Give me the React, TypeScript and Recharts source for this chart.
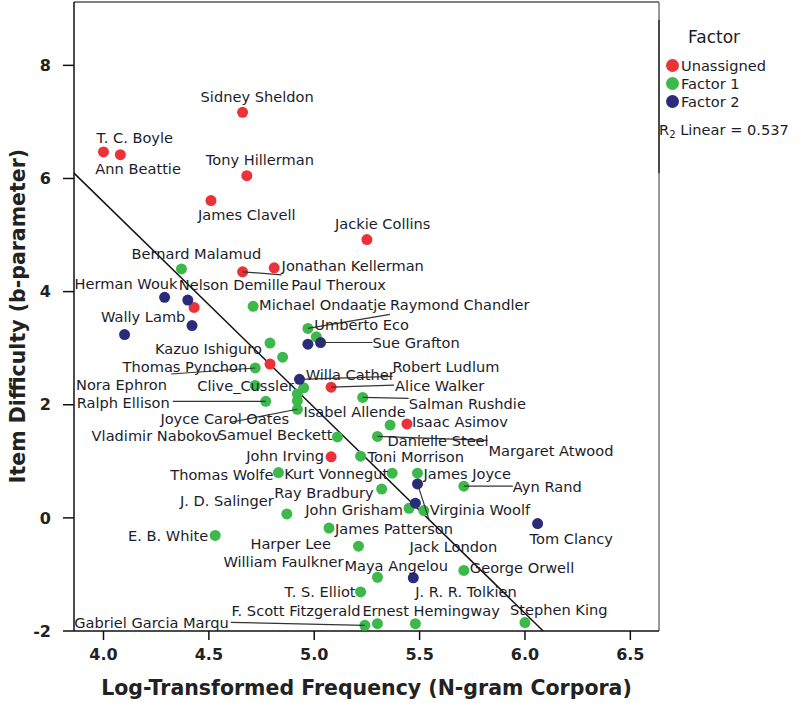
import { ScatterChart, Scatter, XAxis, YAxis, ReferenceLine, Label } from 'recharts';

const FONT = '"DejaVu Sans", sans-serif';

const X_TICKS = [4.0, 4.5, 5.0, 5.5, 6.0, 6.5];
const Y_TICKS = [-2, 0, 2, 4, 6, 8];
const X_DOMAIN = [3.86, 6.636];
const Y_DOMAIN = [-2, 9.12];

// linear fit shown in the plot
const FIT_INTERCEPT = 20.13;
const FIT_SLOPE = -3.636;
const FIT_R2 = 0.537;

const UNASSIGNED = [
  { name: 'T. C. Boyle', x: 4.0, y: 6.47 },
  { name: 'Ann Beattie', x: 4.08, y: 6.42 },
  { name: 'Sidney Sheldon', x: 4.66, y: 7.17 },
  { name: 'Tony Hillerman', x: 4.68, y: 6.05 },
  { name: 'James Clavell', x: 4.51, y: 5.61 },
  { name: 'Jackie Collins', x: 5.25, y: 4.92 },
  { name: 'Jonathan Kellerman', x: 4.66, y: 4.35 },
  { name: 'Paul Theroux', x: 4.81, y: 4.42 },
  { name: '', x: 4.43, y: 3.72 },
  { name: 'Nora Ephron', x: 4.79, y: 2.72 },
  { name: 'Alice Walker', x: 5.08, y: 2.31 },
  { name: 'Isaac Asimov', x: 5.44, y: 1.66 },
  { name: 'John Irving', x: 5.08, y: 1.08 },
];

const FACTOR_1 = [
  { name: 'Bernard Malamud', x: 4.37, y: 4.4 },
  { name: 'Michael Ondaatje', x: 4.71, y: 3.74 },
  { name: 'Raymond Chandler', x: 4.97, y: 3.35 },
  { name: 'Umberto Eco', x: 5.01, y: 3.2 },
  { name: 'Kazuo Ishiguro', x: 4.79, y: 3.09 },
  { name: '', x: 4.85, y: 2.84 },
  { name: 'Thomas Pynchon', x: 4.72, y: 2.65 },
  { name: 'Clive_Cussler', x: 4.72, y: 2.34 },
  { name: 'Willa Cather', x: 4.95, y: 2.3 },
  { name: 'Ralph Ellison', x: 4.77, y: 2.06 },
  { name: 'Vladimir Nabokov', x: 4.92, y: 2.19 },
  { name: 'Isabel Allende', x: 4.92, y: 2.07 },
  { name: 'Joyce Carol Oates', x: 4.92, y: 1.92 },
  { name: 'Salman Rushdie', x: 5.23, y: 2.13 },
  { name: 'Harper Lee', x: 5.36, y: 1.64 },
  { name: 'Danielle Steel', x: 5.3, y: 1.44 },
  { name: 'Samuel Beckett', x: 5.11, y: 1.43 },
  { name: 'Toni Morrison', x: 5.22, y: 1.09 },
  { name: 'Thomas Wolfe', x: 4.83, y: 0.8 },
  { name: 'Kurt Vonnegut', x: 5.37, y: 0.79 },
  { name: 'James Joyce', x: 5.49, y: 0.79 },
  { name: 'Ayn Rand', x: 5.71, y: 0.56 },
  { name: 'Ray Bradbury', x: 5.32, y: 0.51 },
  { name: 'J. D. Salinger', x: 4.87, y: 0.07 },
  { name: 'John Grisham', x: 5.45, y: 0.17 },
  { name: 'Virginia Woolf', x: 5.52, y: 0.13 },
  { name: 'E. B. White', x: 4.53, y: -0.31 },
  { name: 'James Patterson', x: 5.07, y: -0.18 },
  { name: 'William Faulkner', x: 5.21, y: -0.5 },
  { name: 'Maya Angelou', x: 5.3, y: -1.05 },
  { name: 'George Orwell', x: 5.71, y: -0.93 },
  { name: 'T. S. Elliot', x: 5.22, y: -1.31 },
  { name: 'Gabriel Garcia Marqu', x: 5.24, y: -1.9 },
  { name: 'F. Scott Fitzgerald', x: 5.3, y: -1.87 },
  { name: 'Ernest Hemingway', x: 5.48, y: -1.87 },
  { name: 'Stephen King', x: 6.0, y: -1.85 },
];

const FACTOR_2 = [
  { name: 'Herman Wouk', x: 4.29, y: 3.9 },
  { name: 'Nelson Demille', x: 4.4, y: 3.85 },
  { name: 'Wally Lamb', x: 4.42, y: 3.4 },
  { name: '', x: 4.1, y: 3.24 },
  { name: '', x: 4.97, y: 3.07 },
  { name: 'Sue Grafton', x: 5.03, y: 3.1 },
  { name: 'Robert Ludlum', x: 4.93, y: 2.45 },
  { name: 'Margaret Atwood', x: 5.49, y: 0.6 },
  { name: 'Jack London', x: 5.48, y: 0.26 },
  { name: 'Tom Clancy', x: 6.06, y: -0.1 },
  { name: 'J. R. R. Tolkien', x: 5.47, y: -1.06 },
];

const SERIES = [
  { name: 'Unassigned', color: '#EC3239', data: UNASSIGNED },
  { name: 'Factor 1', color: '#3DB84A', data: FACTOR_1 },
  { name: 'Factor 2', color: '#2A2C7A', data: FACTOR_2 },
];

// label placement in px relative to the dot: [dx, dy, anchor, leaderDx?, leaderDy?]
type Pos = [number, number, 'start' | 'end', number?, number?];
const LABEL_POS: Record<string, Pos> = {
  'T. C. Boyle': [-7, -14, 'start'],
  'Ann Beattie': [-25, 14, 'start'],
  'Sidney Sheldon': [-42, -16, 'start'],
  'Tony Hillerman': [-41, -16, 'start'],
  'James Clavell': [-13, 14, 'start'],
  'Jackie Collins': [-32, -16, 'start'],
  'Jonathan Kellerman': [39, -6, 'start', 39, 3],
  'Paul Theroux': [17, 17, 'start'],
  'Nora Ephron': [-194, 20, 'start'],
  'Alice Walker': [64, -2, 'start', 63, -2],
  'Isaac Asimov': [5, -2, 'start'],
  'John Irving': [-7, -1, 'end'],
  'Herman Wouk': [-90, -14, 'start'],
  'Nelson Demille': [-9, -16, 'start'],
  'Wally Lamb': [-91, -9, 'start'],
  'Sue Grafton': [52, 0, 'start', 52, 0],
  'Robert Ludlum': [93, -13, 'start', 93, -3],
  'Margaret Atwood': [71, -33, 'start', 12, 37],
  'Jack London': [-6, 43, 'start'],
  'Tom Clancy': [-8, 15, 'start'],
  'J. R. R. Tolkien': [2, 14, 'start'],
  'Bernard Malamud': [-50, -15, 'start'],
  'Michael Ondaatje': [6, -2, 'start'],
  'Raymond Chandler': [82, -24, 'start', 82, -14],
  'Umberto Eco': [-2, -12, 'start'],
  'Kazuo Ishiguro': [-8, 5, 'end'],
  'Thomas Pynchon': [-8, -1, 'end', -84, 6],
  'Clive_Cussler': [-58, 0, 'start'],
  'Willa Cather': [2, -13, 'start'],
  'Ralph Ellison': [-96, 1, 'end', -93, 0],
  'Vladimir Nabokov': [-77, 42, 'end'],
  'Isabel Allende': [6, 11, 'start'],
  'Joyce Carol Oates': [-137, 9, 'start', -67, 13],
  'Salman Rushdie': [46, 6, 'start', 46, 1],
  'Harper Lee': [-59, 118, 'end'],
  'Danielle Steel': [10, 4, 'start', 110, 4],
  'Samuel Beckett': [-5, -2, 'end'],
  'Toni Morrison': [7, 0, 'start'],
  'Thomas Wolfe': [-5, 2, 'end'],
  'Kurt Vonnegut': [-4, 0, 'end'],
  'James Joyce': [6, 0, 'start'],
  'Ayn Rand': [49, 0, 'start', 49, 0],
  'Ray Bradbury': [-8, 3, 'end'],
  'J. D. Salinger': [-13, -13, 'end'],
  'John Grisham': [-6, 1, 'end'],
  'Virginia Woolf': [6, -1, 'start'],
  'E. B. White': [-7, 0, 'end'],
  'James Patterson': [6, 0, 'start'],
  'William Faulkner': [-15, 15, 'end'],
  'Maya Angelou': [-33, -12, 'start'],
  'George Orwell': [6, -3, 'start'],
  'T. S. Elliot': [-5, 0, 'end'],
  'Gabriel Garcia Marqu': [-136, -3, 'end', -134, -3],
  'F. Scott Fitzgerald': [-17, -13, 'end'],
  'Ernest Hemingway': [-53, -13, 'start'],
  'Stephen King': [-15, -13, 'start'],
};

const ALL_POINTS = [...UNASSIGNED, ...FACTOR_1, ...FACTOR_2];

function makeDot(color: string) {
  return (props: any) => <circle cx={props.cx} cy={props.cy} r={5.5} fill={color} />;
}

function PointLabel(props: any) {
  const { cx, cy, payload } = props;
  const pos = LABEL_POS[payload?.name];
  if (!pos) return <g />;
  const [dx, dy, anchor, lx, ly] = pos;
  return (
    <g>
      {lx !== undefined && (
        <line x1={cx} y1={cy} x2={cx + lx} y2={cy + (ly ?? 0)} stroke="#333" strokeWidth={1.2} />
      )}
      <text
        x={cx + dx}
        y={cy + dy}
        textAnchor={anchor}
        dominantBaseline="central"
        fontFamily={FONT}
        fontSize={14.6}
        fill="#1c1c2a"
      >
        {payload.name}
      </text>
    </g>
  );
}

function FactorLegend() {
  return (
    <div
      style={{
        position: 'absolute',
        left: 658,
        top: 20,
        width: 142,
        height: 153,
        borderLeft: '2px solid #4a4a4a',
        fontFamily: FONT,
        color: '#1c1c2a',
      }}
    >
      <div style={{ position: 'absolute', left: 28, top: 7, fontSize: 17 }}>Factor</div>
      {SERIES.map((s, i) => (
        <div
          key={s.name}
          style={{ position: 'absolute', left: 6, top: 37 + i * 18, display: 'flex', alignItems: 'center' }}
        >
          <span
            style={{ width: 13, height: 13, borderRadius: '50%', background: s.color, display: 'inline-block' }}
          />
          <span style={{ fontSize: 14.6, marginLeft: 2 }}>{s.name}</span>
        </div>
      ))}
      <div style={{ position: 'absolute', left: -1, top: 101, fontSize: 14.6, whiteSpace: 'nowrap' }}>
        R<span style={{ fontSize: 10, verticalAlign: -3 }}>2</span> Linear = {FIT_R2.toFixed(3)}
      </div>
    </div>
  );
}

export default function App() {
  const xEnd = (Y_DOMAIN[0] - FIT_INTERCEPT) / FIT_SLOPE;
  return (
    <div style={{ position: 'absolute', left: 0, top: 0, width: 800, height: 703, background: '#fff' }}>
      <ScatterChart width={800} height={703} margin={{ top: 2, right: 141, bottom: 32, left: 14 }}>
        <XAxis
          type="number"
          dataKey="x"
          domain={X_DOMAIN}
          ticks={X_TICKS}
          allowDataOverflow
          tickFormatter={(v: number) => v.toFixed(1)}
          height={40}
          tickSize={9}
          tickMargin={9}
          stroke="#111"
          strokeWidth={1.5}
          tick={{ fontFamily: FONT, fontSize: 16, fontWeight: 'bold', fill: '#222' }}
        >
          <Label
            value="Log-Transformed Frequency (N-gram Corpora)"
            position="bottom"
            offset={9}
            style={{ fontFamily: FONT, fontSize: 20.5, fontWeight: 'bold', fill: '#222' }}
          />
        </XAxis>
        <YAxis
          type="number"
          dataKey="y"
          domain={Y_DOMAIN}
          ticks={Y_TICKS}
          allowDataOverflow
          width={60}
          tickSize={11}
          tickMargin={12}
          stroke="#111"
          strokeWidth={1.5}
          tick={{ fontFamily: FONT, fontSize: 16, fontWeight: 'bold', fill: '#222' }}
        >
          <Label
            content={() => (
              <text
                x={18}
                y={316}
                transform="rotate(-90 18 316)"
                textAnchor="middle"
                dominantBaseline="central"
                fontFamily={FONT}
                fontSize={20.5}
                fontWeight="bold"
                fill="#222"
              >
                Item Difficulty (b-parameter)
              </text>
            )}
          />
        </YAxis>
        <ReferenceLine y={Y_DOMAIN[1]} stroke="#555" strokeWidth={1.5} />
        <ReferenceLine x={X_DOMAIN[1]} stroke="#777" strokeWidth={1.5} />
        {SERIES.map((s) => (
          <Scatter
            key={s.name}
            name={s.name}
            data={s.data}
            fill={s.color}
            shape={makeDot(s.color)}
            isAnimationActive={false}
          />
        ))}
        <ReferenceLine
          segment={[
            { x: X_DOMAIN[0], y: FIT_INTERCEPT + FIT_SLOPE * X_DOMAIN[0] },
            { x: xEnd, y: Y_DOMAIN[0] },
          ]}
          stroke="#111"
          strokeWidth={1.5}
        />
        <Scatter
          name="labels"
          data={ALL_POINTS}
          shape={PointLabel}
          legendType="none"
          isAnimationActive={false}
        />
      </ScatterChart>
      <FactorLegend />
    </div>
  );
}
